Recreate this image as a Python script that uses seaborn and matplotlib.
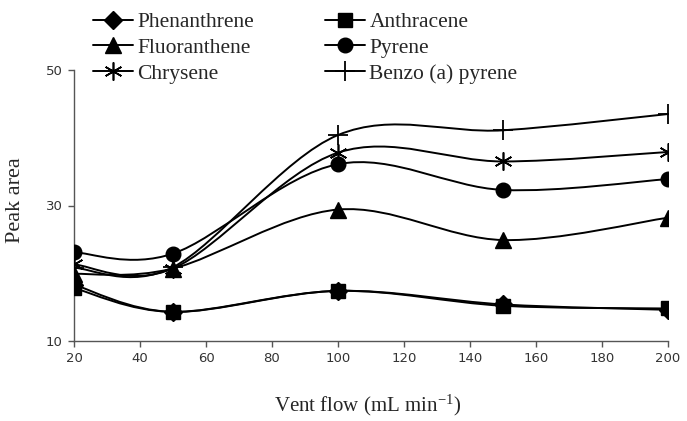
import numpy as np
import pandas as pd
import matplotlib
matplotlib.use("Agg")
import matplotlib.pyplot as plt
import seaborn as sns
from matplotlib.path import Path
from matplotlib.patches import PathPatch
from matplotlib.lines import Line2D

# datos
vent_flow = [20, 50, 100, 150, 200]
phenanthrene = [18.3, 14.3, 17.4, 15.4, 14.6]
anthracene = [17.8, 14.3, 17.4, 15.2, 14.8]
fluoranthene = [19.9, 20.7, 29.4, 24.9, 28.2]
pyrene = [23.1, 22.9, 36.1, 32.3, 33.9]
chrysene = [21.3, 20.7, 37.8, 36.5, 37.9]
benzo_a_pyrene = [20.8, 20.9, 40.4, 41.1, 43.5]

series = {
    "Phenanthrene": phenanthrene,
    "Anthracene": anthracene,
    "Fluoranthene": fluoranthene,
    "Pyrene": pyrene,
    "Chrysene": chrysene,
    "Benzo (a) pyrene": benzo_a_pyrene,
}
markers = {
    "Phenanthrene": ("D", 9, 1.0),
    "Anthracene": ("s", 10, 1.0),
    "Fluoranthene": ("^", 11, 1.0),
    "Pyrene": ("o", 10.5, 1.0),
    "Chrysene": ((6, 2, 0), 13, 1.2),
    "Benzo (a) pyrene": ("+", 14, 1.3),
}

sns.set_style("ticks")
plt.rcParams["font.family"] = ["Liberation Serif", "DejaVu Serif"]
plt.rcParams["mathtext.default"] = "regular"

fig = plt.figure(figsize=(6.87, 4.21), dpi=100)
ax = fig.add_axes([74 / 687, 1 - 341 / 421, 594 / 687, 271 / 421])


def curva_suave(xs, ys):
    # spline tipo Excel (Catmull-Rom convertido a Bezier)
    pts = np.column_stack([xs, ys]).astype(float)
    n = len(pts)
    verts = [pts[0]]
    codes = [Path.MOVETO]
    for i in range(n - 1):
        p0 = pts[max(i - 1, 0)]
        p1 = pts[i]
        p2 = pts[i + 1]
        p3 = pts[min(i + 2, n - 1)]
        c1 = p1 + (p2 - p0) / 6
        c2 = p2 - (p3 - p1) / 6
        verts += [c1, c2, p2]
        codes += [Path.CURVE4] * 3
    return Path(verts, codes)


handles = {}
for name, vals in series.items():
    m, ms, mew = markers[name]
    ax.add_patch(PathPatch(curva_suave(vent_flow, vals), fill=False,
                           edgecolor="black", lw=1.4, zorder=2))
    df = pd.DataFrame({"flow": vent_flow, "area": vals})
    sns.lineplot(data=df, x="flow", y="area", ax=ax, color="black",
                 marker=m, markersize=ms, markeredgewidth=mew, ls="none",
                 markeredgecolor="black", zorder=3)
    handles[name] = Line2D([], [], color="black", lw=1.4, marker=m,
                           markersize=ms, markeredgewidth=mew, label=name)

ax.set_xlim(20, 200)
ax.set_ylim(10, 50)
ax.set_xticks(range(20, 201, 20))
ax.set_yticks([10, 30, 50])
sns.despine(ax=ax)
for s in ["left", "bottom"]:
    ax.spines[s].set_color("#555555")
    ax.spines[s].set_linewidth(1.0)
ax.tick_params(axis="both", direction="out", length=4, width=1.0,
               color="#555555", labelcolor="#333333", pad=4)
for lab in ax.get_xticklabels() + ax.get_yticklabels():
    lab.set_family("DejaVu Sans")
    lab.set_fontsize(9.5)

ax.set_xlabel("Vent flow (mL min$^{-1}$)", fontsize=15, va="center")
ax.xaxis.set_label_coords(294 / 594, -64 / 271)
ax.set_ylabel("Peak area", fontsize=16, va="center")
ax.yaxis.set_label_coords(-59 / 594, 141 / 271)

# la leyenda va por filas: matplotlib llena por columnas
orden = ["Phenanthrene", "Fluoranthene", "Chrysene",
         "Anthracene", "Pyrene", "Benzo (a) pyrene"]
fig.legend(handles=[handles[k] for k in orden], loc="upper left", ncol=2,
           bbox_to_anchor=(93 / 687, 1 - 12 / 421), frameon=False,
           fontsize=15.5, handlelength=1.86, handletextpad=0.2,
           columnspacing=3.3, labelspacing=0.27, borderpad=0,
           borderaxespad=0)

plt.savefig("out.png", dpi=100)
